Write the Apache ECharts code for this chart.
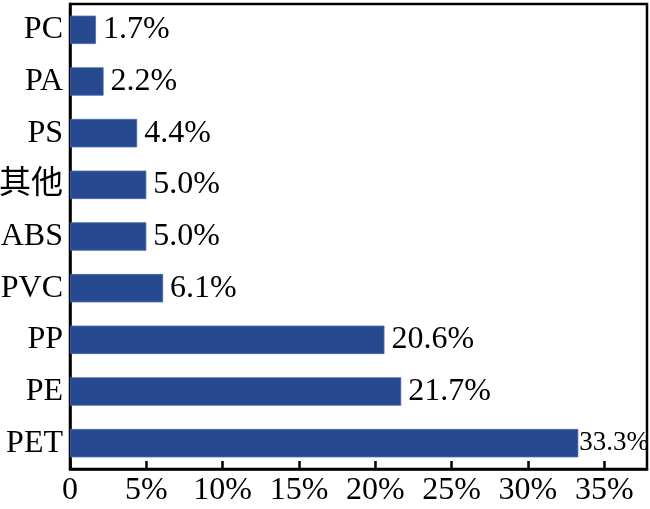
<!DOCTYPE html>
<html>
<head>
<meta charset="utf-8">
<script src="https://cdn.jsdelivr.net/npm/echarts@6/dist/echarts.min.js"></script>
<style>
  html, body { margin: 0; padding: 0; background: #fff; }
  #chart { width: 650px; height: 509px; }
</style>
</head>
<body>
<div id="chart"></div>
<script>
// 数据（自下而上）
const categories = ['PET', 'PE', 'PP', 'PVC', 'ABS', '其他', 'PS', 'PA', 'PC'];
const shares = [33.3, 21.7, 20.6, 6.1, 5.0, 5.0, 4.4, 2.2, 1.7];
const xTicks = [0, 5, 10, 15, 20, 25, 30, 35];

const serif = "'Liberation Serif', 'Times New Roman', 'Noto Sans CJK SC', serif";

const chart = echarts.init(document.getElementById('chart'));

const option = {
    animation: false,
    grid: {
        left: 70, right: 3, top: 4, bottom: 40,
        containLabel: false, outerBoundsMode: 'none',
        show: true, borderColor: '#000', borderWidth: 2.5, backgroundColor: '#fff'
    },
    xAxis: {
        type: 'value', min: 0, max: 37.8,
        splitLine: { show: false },
        axisLine: { show: true, lineStyle: { color: '#000', width: 2.5 } },
        axisTick: { show: true, inside: true, length: 8, customValues: xTicks, lineStyle: { color: '#000', width: 2.5 } },
        axisLabel: {
            customValues: xTicks,
            formatter: v => v === 0 ? '0' : v + '%',
            color: '#000', fontFamily: serif, fontSize: 32, margin: 6
        }
    },
    yAxis: {
        type: 'category', data: categories,
        axisLine: { show: true, lineStyle: { color: '#000', width: 2.5 } },
        axisTick: { show: false },
        axisLabel: { color: '#000', fontFamily: serif, fontSize: 32, margin: 7 }
    },
    series: [{
        type: 'bar',
        data: shares.map((v, i) => ({
            value: v,
            label: i === 0 ? { fontSize: 27, distance: 1 } : {}
        })),
        barWidth: '55%',
        itemStyle: { color: '#27498f', borderColor: '#4a6bb0', borderWidth: 0.8 },
        label: {
            show: true, position: 'right', distance: 7,
            formatter: p => p.value.toFixed(1) + '%',
            color: '#000', fontFamily: serif, fontSize: 32
        }
    }]
};

chart.setOption(option);
</script>
</body>
</html>
